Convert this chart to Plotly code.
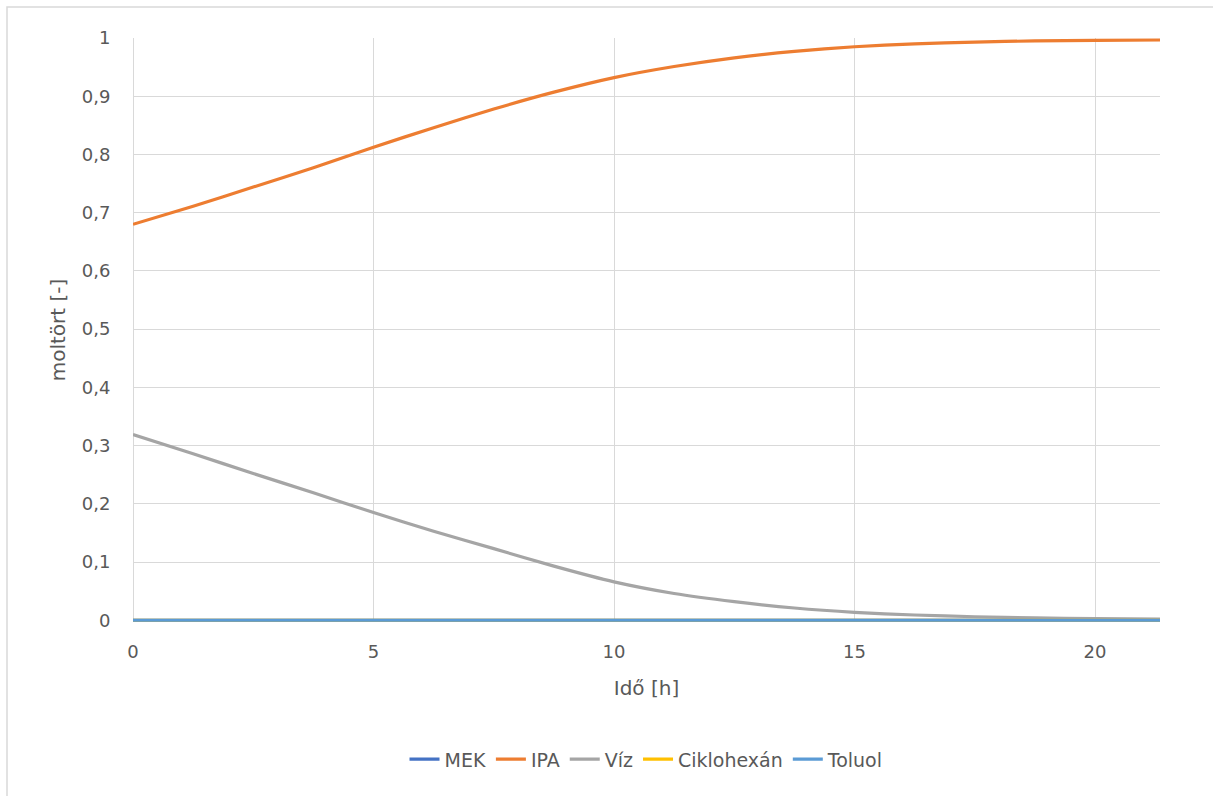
import plotly.graph_objects as go

# Time [h]
t = [0, 1.25, 2.5, 3.75, 5, 6.25, 7.5, 8.75, 10, 11.25, 12.5, 13.75, 15, 16.25, 17.5, 18.75, 20, 21.35]

# Mole fractions
mek = [0.0] * len(t)
ipa = [0.680, 0.711, 0.744, 0.777, 0.8125, 0.846, 0.878, 0.907, 0.932, 0.951, 0.966,
       0.977, 0.985, 0.990, 0.993, 0.995, 0.996, 0.9966]
viz = [0.319, 0.286, 0.252, 0.219, 0.185, 0.153, 0.123, 0.093, 0.066, 0.046, 0.032,
       0.021, 0.0135, 0.009, 0.006, 0.004, 0.003, 0.002]
ciklohexan = [0.0] * len(t)
toluol = [0.0] * len(t)

series = [
    ("MEK", mek, "#4472C4"),
    ("IPA", ipa, "#ED7D31"),
    ("Víz", viz, "#A5A5A5"),
    ("Ciklohexán", ciklohexan, "#FFC000"),
    ("Toluol", toluol, "#5B9BD5"),
]

fig = go.Figure()
for name, ys, col in series:
    fig.add_trace(go.Scatter(
        x=t, y=ys, name=name, mode="lines",
        line=dict(color=col, width=3.2, shape="spline", smoothing=0.6),
    ))

font_color = "#595959"
fam = "DejaVu Sans, sans-serif"
y_lo = -0.003
fig.update_layout(
    width=1213, height=796,
    paper_bgcolor="white", plot_bgcolor="white",
    margin=dict(l=133, r=53, t=38, b=174),
    separators=", ",
    font=dict(family=fam, size=18, color=font_color),
    showlegend=True,
    legend=dict(orientation="h", x=0.5, xanchor="center", y=-0.235, yanchor="middle",
                font=dict(family=fam, size=19, color=font_color)),
    xaxis=dict(
        range=[0, 21.35], dtick=5, tick0=0,
        showgrid=True, gridcolor="#D9D9D9", gridwidth=1,
        zeroline=True, zerolinecolor="#D9D9D9", zerolinewidth=1,
        showline=False, ticks="outside", ticklen=13, tickcolor="rgba(0,0,0,0)",
        tickfont=dict(family=fam, size=18, color=font_color),
        title=dict(text="Idő [h]", font=dict(family=fam, size=20, color=font_color), standoff=20),
    ),
    yaxis=dict(
        range=[y_lo, 1], dtick=0.1, tick0=0,
        showgrid=True, gridcolor="#D9D9D9", gridwidth=1,
        zeroline=False,
        showline=False, ticks="outside", ticklen=18, tickcolor="rgba(0,0,0,0)",
        tickfont=dict(family=fam, size=18, color=font_color),
        title=dict(text="moltört [-]", font=dict(family=fam, size=20, color=font_color), standoff=10),
    ),
    shapes=[
        dict(type="rect", xref="paper", yref="paper",
             x0=(7 - 133) / 1027, x1=(1230 - 133) / 1027,
             y0=-0.3, y1=(622 - 7) / 584,
             line=dict(color="#D9D9D9", width=1.5), fillcolor="rgba(0,0,0,0)", layer="below"),
    ],
)

fig.write_html("out.html")
